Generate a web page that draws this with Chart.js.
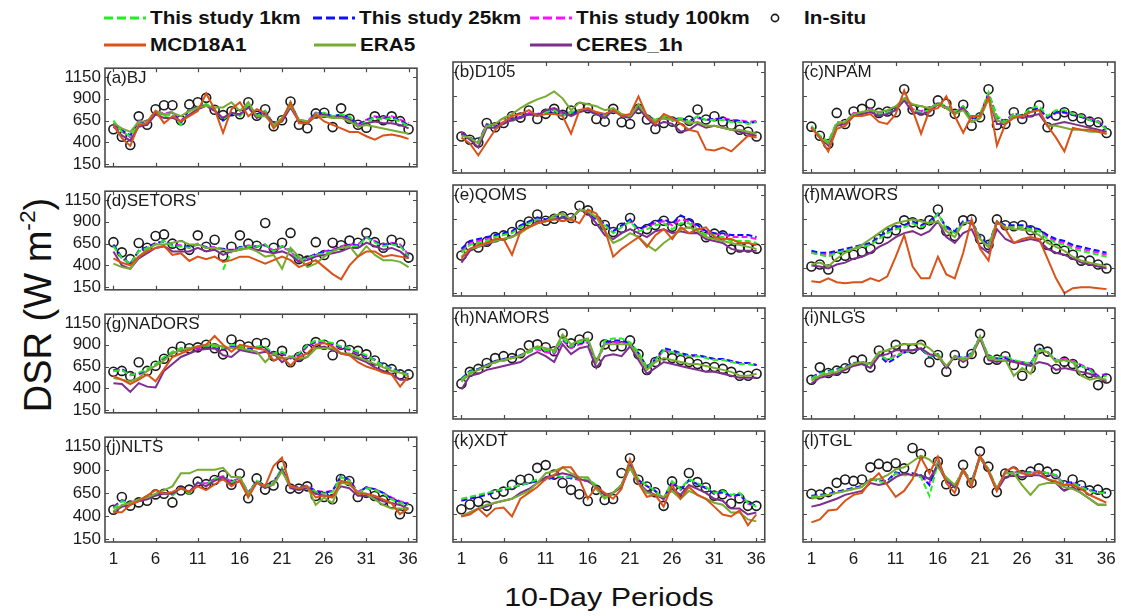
<!DOCTYPE html>
<html>
<head>
<meta charset="utf-8">
<script src="https://cdn.jsdelivr.net/npm/chart.js@4.4.1/dist/chart.umd.min.js"></script>
<style>
  body { margin:0; background:#fff; }
  #fig { position:relative; width:1121px; height:616px; overflow:hidden; font-family:'Liberation Sans', Arial, sans-serif; color:#111; background:#fff; }
  #fig canvas { position:absolute; }
  .leg { position:absolute; font-weight:bold; font-size:18px; line-height:20px; transform:scaleX(1.15); transform-origin:left center; white-space:nowrap; }
  .sw { position:absolute; }
  #xlab { position:absolute; left:609px; top:582px; font-size:26px; line-height:30px; white-space:nowrap; transform:translateX(-50%) scaleX(1.17); }
  #ylab { position:absolute; left:34px; top:305px; font-size:38px; line-height:42px; white-space:nowrap; transform:translate(-50%,-50%) rotate(-90deg); }
  #ylab sup { font-size:0.6em; position:relative; top:-0.15em; }
</style>
</head>
<body>
<div id="fig">
  <div id="xlab">10-Day Periods</div>
  <div id="ylab">DSR (W m<sup>-2</sup>)</div>
</div>
<script>
const periods = [1,2,3,4,5,6,7,8,9,10,11,12,13,14,15,16,17,18,19,20,21,22,23,24,25,26,27,28,29,30,31,32,33,34,35,36];
const xTicks = [1,6,11,16,21,26,31,36];
const yTicks = [150,400,650,900,1150];

// (a) BJ
const bjInsitu = [551,465,369,698,602,780,825,825,653,835,859,910,773,712,756,722,859,705,780,585,653,869,602,561,732,739,575,790,670,602,568,698,653,698,643,551];
const bj1km   = [650,520,470,620,600,740,700,720,600,760,800,840,780,660,740,700,830,700,760,590,640,860,640,620,730,740,700,720,700,580,640,680,660,680,640,580];
const bj25km  = [620,540,480,640,620,740,720,740,620,780,800,830,770,650,720,720,820,720,760,600,650,850,650,630,740,730,700,720,690,600,650,690,670,690,650,600];
const bj100km = [600,530,460,650,640,760,730,750,640,780,800,820,760,680,730,720,800,720,750,610,660,820,660,640,740,720,690,700,680,610,660,700,680,700,660,620];
const bjMcd   = [600,450,360,600,620,760,620,700,640,700,760,960,780,510,780,860,700,780,740,560,660,860,620,620,720,640,600,560,520,520,470,430,480,490,470,440];
const bjEra5  = [620,560,520,640,640,760,720,740,700,760,800,820,800,800,860,760,860,700,700,600,680,820,660,640,700,700,680,680,640,580,600,580,560,540,520,500];
const bjCeres = [580,480,420,580,600,720,680,680,640,720,780,820,760,680,740,720,800,680,720,620,640,800,640,620,700,720,680,700,660,580,620,640,620,620,600,560];

// (b) D105
const d105Insitu = [492,458,431,629,585,629,698,684,756,670,722,773,712,756,790,780,670,643,773,636,619,773,664,568,629,643,575,653,766,664,698,643,609,561,540,492];
const d1051km   = [510,470,430,600,580,620,660,680,720,700,740,760,700,740,760,760,720,700,760,700,700,800,700,660,700,660,680,640,700,660,660,660,640,640,620,640];
const d10525km  = [520,480,440,610,590,630,670,690,720,710,740,750,710,730,750,750,720,710,770,700,700,790,700,660,690,660,680,650,690,660,670,670,650,650,630,640];
const d105100km = [530,480,430,620,600,640,680,690,730,720,750,760,720,740,760,760,730,710,760,700,690,780,700,650,680,650,670,640,680,660,670,680,660,660,640,650];
const d105Mcd   = [480,420,300,430,560,640,700,720,760,700,720,720,700,520,760,780,740,720,760,700,720,900,700,620,720,680,620,560,540,360,350,380,340,420,500,480];
const d105Era5  = [500,480,420,600,620,680,720,780,830,870,900,950,880,760,840,820,800,760,780,720,700,820,700,640,680,660,660,620,640,600,600,580,560,560,540,520];
const d105Ceres = [520,460,380,580,580,620,660,680,720,700,760,780,740,700,740,760,720,680,760,700,680,780,680,600,640,620,540,560,620,580,600,580,560,540,520,500];

// (c) NPAM
const npamInsitu = [592,499,414,732,619,746,773,825,732,746,739,972,766,756,746,859,825,722,815,602,688,972,609,619,739,670,739,808,585,705,739,698,677,643,636,527];
const npam1km   = [600,500,440,640,640,720,720,760,720,740,760,900,760,740,760,840,800,740,800,680,720,940,700,640,720,700,780,800,700,760,760,720,700,660,640,560];
const npam25km  = [590,490,430,630,630,720,730,760,720,740,770,900,760,740,770,840,790,730,800,670,710,930,690,640,720,700,760,780,680,740,740,710,690,660,640,570];
const npam100km = [580,480,420,620,640,730,730,770,730,750,770,890,770,750,770,830,790,740,790,680,700,920,680,650,730,700,750,770,680,730,730,710,700,670,650,580];
const npamMcd   = [580,480,340,570,600,700,700,720,640,620,720,960,760,520,760,780,900,700,530,700,700,900,400,620,680,700,740,760,600,480,340,580,560,560,540,520];
const npamEra5  = [580,480,420,620,640,720,740,760,740,760,800,880,820,800,780,820,780,720,760,640,680,880,660,620,700,700,740,760,600,600,580,560,560,540,540,520];
const npamCeres = [580,480,400,600,620,700,720,740,700,720,760,860,740,720,740,820,780,720,780,640,680,880,620,620,700,680,700,720,600,620,640,620,600,580,560,540];

// (d) SETORS
const setorsInsitu = [666,549,472,656,602,737,755,649,631,578,744,613,694,507,613,744,649,624,886,602,659,772,472,454,666,518,659,631,684,659,772,666,602,694,659,489];
const setors1km   = [620,480,420,560,600,640,680,620,620,600,640,600,null,350,560,600,620,620,640,560,620,560,460,480,520,540,560,600,620,620,720,660,620,640,620,500];
const setors25km  = [640,490,420,570,610,650,680,630,620,610,640,610,600,590,570,610,620,620,630,570,620,570,470,490,530,550,570,610,630,630,730,670,630,650,630,510];
const setors100km = [630,480,410,560,600,660,670,640,630,600,650,600,610,580,580,600,630,610,640,560,610,560,460,480,520,560,580,620,640,640,720,680,640,660,640,520];
const setorsMcd   = [480,430,400,500,560,600,620,520,540,450,500,470,500,440,460,500,500,460,420,460,500,460,380,420,460,380,300,240,400,500,560,560,500,520,500,480];
const setorsEra5  = [420,380,360,500,580,640,640,660,680,640,640,600,600,580,560,580,600,560,500,520,360,600,500,380,420,500,560,600,620,500,620,520,460,460,440,380];
const setorsCeres = [560,400,360,480,540,600,620,560,560,560,600,560,580,520,560,580,600,580,560,540,560,520,440,460,500,520,540,560,600,600,660,620,580,600,560,480];

// (e) QOMS
const qomsInsitu = [532,631,613,673,719,737,772,843,878,949,886,907,932,914,1038,992,886,843,772,815,914,772,801,843,886,825,886,861,808,719,755,737,595,613,613,602];
const qoms1km   = [560,640,660,680,720,740,760,820,860,900,880,920,920,900,1000,980,920,840,760,820,880,780,800,840,860,800,860,860,800,740,740,720,680,680,680,660];
const qoms25km  = [600,680,700,720,740,760,780,840,880,920,900,930,930,910,1000,980,900,860,780,840,900,800,840,880,900,860,940,900,840,780,760,760,740,740,740,720];
const qoms100km = [580,660,680,700,730,750,770,830,870,910,890,920,920,900,990,970,890,850,780,830,890,800,830,860,880,840,900,880,820,760,750,750,720,720,720,700];
const qomsMcd   = [500,600,640,660,700,700,540,780,820,860,880,900,880,900,860,1000,960,800,520,600,660,720,620,740,800,700,820,760,800,820,720,700,700,660,660,640];
const qomsEra5  = [520,600,620,660,680,700,720,760,820,860,880,940,960,900,1000,980,920,780,660,700,760,720,640,580,660,720,800,820,780,720,700,680,660,640,620,600];
const qomsCeres = [460,580,620,640,680,700,720,780,820,880,880,900,920,900,1000,960,860,740,700,760,800,760,720,780,800,760,780,760,760,700,680,660,600,580,580,580];

// (f) MAWORS
const maworsInsitu = [420,440,390,520,530,540,570,600,700,760,790,890,870,850,890,1000,780,730,890,900,700,640,900,840,830,840,790,740,640,600,580,540,480,480,440,400];
const mawors1km   = [560,540,520,560,580,600,620,640,700,760,800,820,860,820,860,960,800,760,860,880,700,620,880,820,820,820,800,780,700,660,640,600,580,560,540,520];
const mawors25km  = [580,560,560,580,600,620,640,660,720,780,820,840,880,840,880,960,820,780,880,880,720,640,880,840,840,840,820,800,740,700,680,640,620,600,580,560];
const mawors100km = [560,540,540,560,580,600,620,650,710,770,810,830,870,830,870,950,810,770,870,870,710,630,870,830,830,830,810,790,720,680,660,620,600,580,560,540];
const maworsMcd   = [270,260,300,260,250,260,260,300,270,320,520,740,420,300,300,520,340,300,560,900,600,480,880,800,660,700,720,700,500,300,150,200,210,210,200,190];
const maworsEra5  = [440,460,420,500,560,600,640,700,760,820,860,880,900,880,860,880,780,720,860,880,700,620,880,820,800,800,780,740,660,620,580,520,480,460,440,420];
const maworsCeres = [430,420,400,440,460,500,520,560,620,660,720,760,780,740,780,880,720,660,760,800,620,560,800,700,660,680,700,680,600,560,540,500,460,440,420,400];

// (g) NADORS
const nadorsInsitu = [590,600,540,700,600,660,740,820,880,860,870,900,860,790,960,900,880,920,920,770,830,700,760,850,930,900,780,900,840,830,790,720,640,620,560,560];
const nadors1km   = [600,610,550,580,620,680,760,820,860,860,880,890,880,860,900,880,870,880,880,800,820,760,800,900,950,940,920,880,860,820,780,720,660,620,580,560];
const nadors25km  = [610,620,560,570,610,670,750,810,860,860,870,880,870,850,890,870,860,870,870,790,810,750,790,890,940,930,910,870,850,810,770,730,670,630,590,560];
const nadors100km = [600,610,550,560,600,660,740,800,850,850,860,880,860,840,880,860,860,860,860,780,800,740,780,880,930,920,900,860,840,800,760,720,660,620,580,550];
const nadorsMcd   = [540,500,450,500,560,480,620,760,800,840,880,900,1000,900,820,900,880,860,840,720,760,660,760,800,900,920,880,800,780,700,650,620,580,560,420,540];
const nadorsEra5  = [520,500,480,520,600,660,720,800,840,860,880,900,900,880,860,860,840,820,700,800,740,760,740,760,860,860,860,800,800,760,720,680,640,600,580,540];
const nadorsCeres = [460,450,360,460,420,410,600,680,760,800,840,850,860,780,760,840,820,800,820,800,700,760,720,760,860,880,840,800,780,740,700,640,600,560,500,500];

// (h) NAMORS (no MCD18A1)
const namorsInsitu = [480,600,630,690,740,760,740,790,870,880,850,810,990,890,930,960,690,880,860,860,920,780,620,700,770,740,720,700,680,650,650,630,600,560,560,580];
const namors1km   = [520,600,620,660,700,720,740,760,800,840,820,800,940,860,900,920,700,920,940,940,900,800,640,720,820,800,780,760,760,740,720,720,700,680,680,660];
const namors25km  = [530,610,630,670,710,730,750,770,810,850,820,800,930,860,890,910,700,900,920,920,890,790,650,730,840,820,790,770,770,750,730,730,710,690,690,670];
const namors100km = [520,600,620,660,700,720,740,760,800,830,800,780,920,840,880,900,690,880,900,900,880,780,640,720,820,800,780,760,760,750,730,730,710,690,690,670];
const namorsMcd   = [];
const namorsEra5  = [500,580,620,660,700,720,740,760,820,860,840,820,980,880,920,940,700,880,880,880,880,760,620,700,740,720,700,680,680,660,640,620,600,560,560,580];
const namorsCeres = [420,560,580,620,640,660,680,700,760,800,760,700,880,780,840,860,640,760,780,760,860,720,580,640,700,680,660,640,620,600,600,580,560,540,540,540];

// (i) NLGS (no MCD18A1)
const nlgsInsitu = [520,646,588,612,636,714,724,646,817,772,875,841,834,875,697,772,602,772,690,782,987,724,724,759,670,561,636,834,806,629,704,680,612,588,465,533];
const nlgs1km   = [530,580,600,620,640,680,700,660,780,720,760,800,820,840,760,780,640,760,740,780,960,760,740,760,720,700,680,840,800,720,720,700,660,620,540,560];
const nlgs25km  = [540,590,610,630,650,690,700,660,770,690,740,800,820,830,750,780,640,760,740,790,960,750,730,740,710,690,680,840,800,720,720,700,660,620,550,570];
const nlgs100km = [540,590,600,620,650,680,700,670,780,720,770,800,820,840,760,780,650,760,740,780,950,750,740,750,710,700,690,830,800,720,730,710,670,630,560,580];
const nlgsMcd   = [];
const nlgsEra5  = [510,560,580,600,640,680,700,680,800,820,860,880,880,890,840,760,660,760,720,760,960,740,720,720,560,640,580,820,800,700,720,700,560,520,540,520];
const nlgsCeres = [480,540,560,580,620,660,680,640,760,780,820,820,820,840,780,760,640,760,700,760,940,720,700,720,700,680,660,700,680,620,640,620,600,580,540,500];

// (j) NLTS
const nltsInsitu = [468,606,512,547,564,633,640,547,675,685,771,744,789,840,737,858,592,806,685,730,944,696,696,720,616,606,582,799,778,606,651,616,571,537,420,478];
const nlts1km   = [480,560,540,560,580,620,640,620,700,640,760,740,800,820,760,820,640,780,720,760,920,720,700,720,660,640,660,820,780,640,700,680,640,580,540,520];
const nlts25km  = [490,570,540,570,590,630,650,630,710,650,760,740,800,820,760,820,650,780,730,760,910,720,710,720,670,650,670,830,790,650,710,690,650,590,550,530];
const nlts100km = [500,570,550,570,590,630,650,640,700,660,760,750,800,830,770,810,650,770,730,770,900,730,710,730,670,660,670,820,790,660,710,690,650,600,560,540];
const nltsMcd   = [440,440,520,560,620,680,640,660,700,660,720,680,740,800,720,780,600,760,720,940,1030,720,700,720,600,620,600,780,760,640,640,620,580,540,420,480];
const nltsEra5  = [450,520,540,580,600,640,680,720,860,860,900,900,900,920,820,820,640,760,720,740,880,720,700,720,520,600,540,760,740,660,640,580,520,480,480,480];
const nltsCeres = [440,500,520,560,580,620,640,640,700,660,760,720,780,820,740,780,620,760,700,740,900,700,680,700,640,620,620,720,700,620,620,600,560,540,520,480];

// (k) XDT
const xdtInsitu = [454,502,530,488,606,633,702,754,764,875,903,806,720,651,606,537,651,547,557,823,972,754,685,627,488,737,633,823,730,675,592,606,512,564,488,488];
const xdt1km   = [560,580,600,620,640,660,680,700,720,760,760,800,780,780,760,760,700,580,620,700,940,760,700,640,560,740,660,760,720,680,620,640,600,620,520,480];
const xdt25km  = [540,560,580,600,630,650,670,700,720,740,760,780,780,770,760,750,690,590,620,700,930,750,690,640,560,730,650,750,710,670,610,630,590,600,520,490];
const xdt100km = [550,570,590,610,640,650,670,700,720,750,750,780,780,770,750,740,690,580,620,690,920,750,690,640,550,730,650,750,710,670,610,620,580,600,510,480];
const xdtMcd   = [380,400,460,380,460,470,380,560,620,680,760,800,880,880,760,560,680,620,560,660,960,720,580,600,480,700,560,680,600,560,480,400,380,440,290,400];
const xdtEra5  = [380,420,460,500,520,540,560,600,640,720,820,840,880,820,780,780,660,560,620,700,880,720,620,600,580,640,560,640,600,560,520,500,420,420,350,330];
const xdtCeres = [380,420,460,480,520,540,560,620,660,720,780,800,820,800,760,740,680,600,620,680,880,720,640,600,560,660,600,700,660,620,560,540,460,460,400,420];

// (l) TGL
const tglInsitu = [611,604,628,722,756,742,756,880,915,887,922,870,1077,1019,811,939,708,639,905,722,1043,887,628,818,836,801,836,870,836,811,697,756,697,646,653,618];
const tgl1km   = [580,590,600,620,640,660,680,760,740,720,820,800,800,780,590,920,760,680,860,720,1000,860,660,820,820,820,820,840,820,800,700,720,680,640,620,620];
const tgl25km  = [590,600,610,630,650,670,690,760,740,740,830,810,820,800,700,930,760,680,860,730,1000,860,660,830,830,830,830,840,820,800,710,730,690,650,630,620];
const tgl100km = [580,590,600,630,650,670,690,760,750,740,820,810,810,790,720,920,750,680,850,720,990,850,650,820,830,830,820,840,820,790,700,720,680,650,630,620];
const tglMcd   = [320,350,440,450,540,600,620,740,820,700,580,640,760,980,820,990,720,620,860,680,1000,840,640,840,880,820,800,840,760,740,700,700,660,600,560,520];
const tglEra5  = [560,580,600,620,640,660,680,760,760,800,860,880,940,1000,960,880,780,700,840,720,980,860,660,820,820,700,600,700,720,720,680,660,620,560,500,500];
const tglCeres = [480,500,530,560,600,620,640,720,700,720,780,820,800,800,760,900,740,680,840,720,980,840,640,780,800,780,800,800,760,720,640,680,620,560,500,500];

const panels = [
  { name:'(a)BJ',     insitu:bjInsitu,     s1:bj1km,     s25:bj25km,     s100:bj100km,     mcd:bjMcd,     era:bjEra5,     ceres:bjCeres },
  { name:'(b)D105',   insitu:d105Insitu,   s1:d1051km,   s25:d10525km,   s100:d105100km,   mcd:d105Mcd,   era:d105Era5,   ceres:d105Ceres },
  { name:'(c)NPAM',   insitu:npamInsitu,   s1:npam1km,   s25:npam25km,   s100:npam100km,   mcd:npamMcd,   era:npamEra5,   ceres:npamCeres },
  { name:'(d)SETORS', insitu:setorsInsitu, s1:setors1km, s25:setors25km, s100:setors100km, mcd:setorsMcd, era:setorsEra5, ceres:setorsCeres },
  { name:'(e)QOMS',   insitu:qomsInsitu,   s1:qoms1km,   s25:qoms25km,   s100:qoms100km,   mcd:qomsMcd,   era:qomsEra5,   ceres:qomsCeres },
  { name:'(f)MAWORS', insitu:maworsInsitu, s1:mawors1km, s25:mawors25km, s100:mawors100km, mcd:maworsMcd, era:maworsEra5, ceres:maworsCeres },
  { name:'(g)NADORS', insitu:nadorsInsitu, s1:nadors1km, s25:nadors25km, s100:nadors100km, mcd:nadorsMcd, era:nadorsEra5, ceres:nadorsCeres },
  { name:'(h)NAMORS', insitu:namorsInsitu, s1:namors1km, s25:namors25km, s100:namors100km, mcd:namorsMcd, era:namorsEra5, ceres:namorsCeres },
  { name:'(i)NLGS',   insitu:nlgsInsitu,   s1:nlgs1km,   s25:nlgs25km,   s100:nlgs100km,   mcd:nlgsMcd,   era:nlgsEra5,   ceres:nlgsCeres },
  { name:'(j)NLTS',   insitu:nltsInsitu,   s1:nlts1km,   s25:nlts25km,   s100:nlts100km,   mcd:nltsMcd,   era:nltsEra5,   ceres:nltsCeres },
  { name:'(k)XDT',    insitu:xdtInsitu,    s1:xdt1km,    s25:xdt25km,    s100:xdt100km,    mcd:xdtMcd,    era:xdtEra5,    ceres:xdtCeres },
  { name:'(l)TGL',    insitu:tglInsitu,    s1:tgl1km,    s25:tgl25km,    s100:tgl100km,    mcd:tglMcd,    era:tglEra5,    ceres:tglCeres }
];

const colors = { s1:'#22ee22', s25:'#1010ff', s100:'#ff10ff', mcd:'#d95319', era:'#77ac30', ceres:'#7e2f8e', insitu:'#1a1a1a' };
const dash = [6, 3];

// legend (html)
const fig = document.getElementById('fig');
const legendItems = [
  { label:'This study 1km',   color:colors.s1,   dashed:true,  x:104, y:18 },
  { label:'This study 25km',  color:colors.s25,  dashed:true,  x:313, y:18 },
  { label:'This study 100km', color:colors.s100, dashed:true,  x:530, y:18 },
  { label:'In-situ',          color:colors.insitu, marker:true, x:768, y:18 },
  { label:'MCD18A1',          color:colors.mcd,  dashed:false, x:104, y:45 },
  { label:'ERA5',             color:colors.era,  dashed:false, x:314, y:45 },
  { label:'CERES_1h',         color:colors.ceres,dashed:false, x:530, y:45 }
];
legendItems.forEach(it => {
  const sw = document.createElementNS('http://www.w3.org/2000/svg', 'svg');
  sw.setAttribute('class', 'sw');
  sw.setAttribute('width', '44'); sw.setAttribute('height', '12');
  sw.style.left = it.x + 'px'; sw.style.top = (it.y - 6) + 'px';
  if (it.marker) {
    sw.innerHTML = '<circle cx="7" cy="6" r="3.6" fill="none" stroke="' + it.color + '" stroke-width="1.6"/>';
  } else {
    sw.innerHTML = '<line x1="0" y1="6" x2="42" y2="6" stroke="' + it.color + '" stroke-width="3"' +
      (it.dashed ? ' stroke-dasharray="9 4"' : '') + '/>';
  }
  fig.appendChild(sw);
  const t = document.createElement('div');
  t.className = 'leg';
  t.textContent = it.label;
  t.style.left = (it.marker ? it.x + 36 : it.x + 46) + 'px';
  t.style.top = (it.y - 10) + 'px';
  fig.appendChild(t);
});

// box + inward ticks + panel label, matlab style
const framePlugin = {
  id: 'frame',
  afterDatasetsDraw(chart, args, opts) {
    const { ctx, chartArea: a, scales: { x, y } } = chart;
    ctx.save();
    ctx.strokeStyle = '#4a4a4a';
    ctx.lineWidth = 1.6;
    ctx.strokeRect(a.left, a.top, a.right - a.left, a.bottom - a.top);
    ctx.lineWidth = 1.2;
    ctx.beginPath();
    xTicks.forEach(v => {
      const px = Math.round(x.getPixelForValue(v)) + 0.5;
      ctx.moveTo(px, a.bottom); ctx.lineTo(px, a.bottom - 4);
      ctx.moveTo(px, a.top); ctx.lineTo(px, a.top + 4);
    });
    yTicks.forEach(v => {
      const py = Math.round(y.getPixelForValue(v)) + 0.5;
      ctx.moveTo(a.left, py); ctx.lineTo(a.left + 4, py);
      ctx.moveTo(a.right, py); ctx.lineTo(a.right - 4, py);
    });
    ctx.stroke();
    ctx.fillStyle = '#1a1a1a';
    ctx.font = '17px "Liberation Sans", Arial, sans-serif';
    ctx.textBaseline = 'top';
    ctx.fillText(opts.label, a.left + 1, a.top + 2);
    ctx.restore();
  }
};

const colLeft = [105, 453, 803];
const rowTop = [62, 185, 308, 431];
const panelW = 312, panelH = 111;
const tickFont = { family: '"Liberation Sans", Arial, sans-serif', size: 17 };

function lineDs(label, values, color, dashed) {
  return {
    label, data: values.map((v, k) => ({ x: periods[k], y: v })),
    borderColor: color, borderWidth: 2, borderDash: dashed ? dash : [],
    pointRadius: 0, tension: 0, fill: false, spanGaps: false
  };
}

panels.forEach((p, i) => {
  const col = i % 3, row = Math.floor(i / 3);
  const isLeft = col === 0, isBottom = row === 3;
  const padL = isLeft ? 56 : 8, padR = 8, padT = 8, padB = isBottom ? 34 : 8;
  const W = panelW + padL + padR, H = panelH + padT + padB;
  const cv = document.createElement('canvas');
  cv.width = W; cv.height = H;
  cv.style.width = W + 'px'; cv.style.height = H + 'px';
  cv.style.left = (colLeft[col] - padL) + 'px';
  cv.style.top = (rowTop[row] - padT) + 'px';
  fig.appendChild(cv);

  const datasets = [];
  if (p.mcd.length) datasets.push(lineDs('MCD18A1', p.mcd, colors.mcd, false));
  datasets.push(lineDs('ERA5', p.era, colors.era, false));
  datasets.push(lineDs('CERES_1h', p.ceres, colors.ceres, false));
  datasets.push(lineDs('This study 1km', p.s1, colors.s1, true));
  datasets.push(lineDs('This study 25km', p.s25, colors.s25, true));
  datasets.push(lineDs('This study 100km', p.s100, colors.s100, true));
  datasets.push({
    label: 'In-situ', data: p.insitu.map((v, k) => ({ x: periods[k], y: v })),
    showLine: false, pointRadius: 4.5, pointBorderWidth: 1.6,
    pointBorderColor: colors.insitu, pointBackgroundColor: 'rgba(0,0,0,0)', clip: 8
  });

  new Chart(cv, {
    type: 'line',
    data: { datasets },
    options: {
      responsive: false, animation: false, devicePixelRatio: 1,
      layout: { autoPadding: false, padding: { left: isLeft ? 0 : padL, right: padR, top: padT, bottom: isBottom ? 0 : padB } },
      plugins: { legend: { display: false }, tooltip: { enabled: false }, frame: { label: p.name } },
      scales: {
        x: {
          type: 'linear', min: 0, max: 37,
          afterBuildTicks: s => { s.ticks = xTicks.map(v => ({ value: v })); },
          ticks: { display: isBottom, font: tickFont, color: '#1a1a1a', padding: 7, maxRotation: 0, autoSkip: false, callback: v => String(v) },
          grid: { display: false, drawTicks: false }, border: { display: false },
          afterFit: s => { s.height = isBottom ? padB : 0; }
        },
        y: {
          min: 120, max: 1250,
          afterBuildTicks: s => { s.ticks = yTicks.map(v => ({ value: v })); },
          ticks: { display: isLeft, font: tickFont, color: '#1a1a1a', padding: 4, autoSkip: false, callback: v => String(v) },
          grid: { display: false, drawTicks: false }, border: { display: false },
          afterFit: s => { s.width = isLeft ? padL : 0; }
        }
      }
    },
    plugins: [framePlugin]
  });
});
</script>
</body>
</html>
